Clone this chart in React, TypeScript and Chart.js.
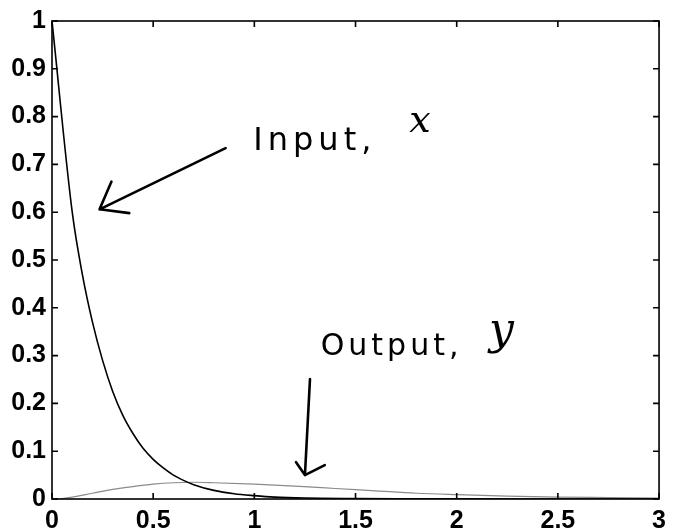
import React, { useEffect, useRef } from "react";
import { Chart, registerables } from "chart.js";

Chart.register(...registerables);

const inputT = [0, 0.1, 0.15, 0.2, 0.25, 0.3, 0.35, 0.4, 0.45, 0.5, 0.55, 0.6, 0.65, 0.7, 0.8, 0.9, 1.0, 1.1, 1.25, 1.5, 1.75, 2.0, 2.5, 3.0];
const inputX = [1, 0.6, 0.47, 0.37, 0.29, 0.225, 0.175, 0.137, 0.106, 0.083, 0.065, 0.05, 0.039, 0.03, 0.018, 0.011, 0.007, 0.004, 0.002, 0.001, 0.0005, 0.0002, 0, 0];

const outputT = [0, 0.03, 0.1, 0.2, 0.3, 0.4, 0.5, 0.6, 0.7, 0.8, 1.0, 1.2, 1.4, 1.6, 1.8, 2.0, 2.25, 2.5, 2.75, 3.0];
const outputY = [0, 0, 0.004, 0.012, 0.02, 0.026, 0.031, 0.034, 0.035, 0.034, 0.031, 0.027, 0.022, 0.017, 0.012, 0.009, 0.006, 0.004, 0.003, 0.002];

const xTicks = [0, 0.5, 1, 1.5, 2, 2.5, 3];
const yTicks = [0, 0.1, 0.2, 0.3, 0.4, 0.5, 0.6, 0.7, 0.8, 0.9, 1];
const xTickLabels = ["0", "0.5", "1", "1.5", "2", "2.5", "3"];
const yTickLabels = ["0", "0.1", "0.2", "0.3", "0.4", "0.5", "0.6", "0.7", "0.8", "0.9", "1"];

const inputLabel = "Input,";
const inputVar = "x";
const outputLabel = "Output,";
const outputVar = "y";

const TICK_FONT = { family: "'Liberation Sans', Arial, sans-serif", size: 25, weight: "bold" as const };

function drawSpaced(ctx: CanvasRenderingContext2D, text: string, x: number, y: number, spacing: number) {
  let cx = x;
  for (const ch of text) {
    ctx.fillText(ch, cx, y);
    cx += ctx.measureText(ch).width + spacing;
  }
}

const framePlugin = {
  id: "frame",
  afterDraw(chart: any) {
    const { ctx, chartArea: a, scales } = chart;
    const xs = scales.x;
    const ys = scales.y;
    ctx.save();
    ctx.strokeStyle = "#000";
    ctx.lineWidth = 1.6;
    ctx.strokeRect(a.left, a.top, a.right - a.left, a.bottom - a.top);
    const tl = 6;
    ctx.beginPath();
    for (const v of xTicks) {
      const px = xs.getPixelForValue(v);
      ctx.moveTo(px, a.bottom);
      ctx.lineTo(px, a.bottom - tl);
      ctx.moveTo(px, a.top);
      ctx.lineTo(px, a.top + tl);
    }
    for (const v of yTicks) {
      const py = ys.getPixelForValue(v);
      ctx.moveTo(a.left, py);
      ctx.lineTo(a.left + tl, py);
      ctx.moveTo(a.right, py);
      ctx.lineTo(a.right - tl, py);
    }
    ctx.stroke();

    // handwritten-style annotations, placed in data coordinates
    const P = (t: number, v: number) => [xs.getPixelForValue(t), ys.getPixelForValue(v)];
    ctx.lineWidth = 2.6;
    ctx.lineCap = "round";
    ctx.lineJoin = "round";
    ctx.fillStyle = "#000";

    // Input arrow
    let [tx, ty] = P(0.858, 0.734);
    let [hx, hy] = P(0.235, 0.606);
    let [b1x, b1y] = P(0.294, 0.664);
    let [b2x, b2y] = P(0.382, 0.598);
    ctx.beginPath();
    ctx.moveTo(tx, ty);
    ctx.lineTo(hx, hy);
    ctx.moveTo(b1x, b1y);
    ctx.lineTo(hx, hy);
    ctx.lineTo(b2x, b2y);
    ctx.stroke();

    // Output arrow
    [tx, ty] = P(1.275, 0.251);
    [hx, hy] = P(1.25, 0.05);
    [b1x, b1y] = P(1.206, 0.077);
    [b2x, b2y] = P(1.348, 0.071);
    ctx.beginPath();
    ctx.moveTo(tx, ty);
    ctx.lineTo(hx, hy);
    ctx.moveTo(b1x, b1y);
    ctx.lineTo(hx, hy);
    ctx.lineTo(b2x, b2y);
    ctx.stroke();

    ctx.textBaseline = "alphabetic";
    ctx.textAlign = "left";
    ctx.font = "32px 'DejaVu Sans'";
    let [lx, ly] = P(0.995, 0.73);
    drawSpaced(ctx, inputLabel, lx, ly, 5);
    ctx.font = "italic 38px 'DejaVu Serif'";
    [lx, ly] = P(1.765, 0.768);
    ctx.fillText(inputVar, lx, ly);

    ctx.font = "30px 'DejaVu Sans'";
    [lx, ly] = P(1.328, 0.301);
    drawSpaced(ctx, outputLabel, lx, ly, 4);
    ctx.font = "italic 44px 'DejaVu Serif'";
    [lx, ly] = P(2.16, 0.325);
    ctx.fillText(outputVar, lx, ly);
    ctx.restore();
  },
};

export default function App() {
  const ref = useRef<HTMLCanvasElement | null>(null);
  useEffect(() => {
    if (!ref.current) return;
    const chart = new Chart(ref.current, {
      type: "line",
      data: {
        datasets: [
          {
            label: "Input, x",
            data: inputT.map((t, i) => ({ x: t, y: inputX[i] })),
            borderColor: "#000",
            borderWidth: 1.6,
            pointRadius: 0,
            cubicInterpolationMode: "monotone",
            fill: false,
          },
          {
            label: "Output, y",
            data: outputT.map((t, i) => ({ x: t, y: outputY[i] })),
            borderColor: "#8a8a8a",
            borderWidth: 1.2,
            pointRadius: 0,
            cubicInterpolationMode: "monotone",
            fill: false,
          },
        ],
      },
      options: {
        responsive: false,
        animation: false,
        events: [],
        layout: { padding: { top: 17, right: 9, left: 0, bottom: 0 } },
        plugins: { legend: { display: false }, tooltip: { enabled: false }, title: { display: false } },
        scales: {
          x: {
            type: "linear",
            min: 0,
            max: 3,
            grid: { display: false, drawTicks: false },
            border: { display: false },
            afterBuildTicks: (s: any) => {
              s.ticks = xTicks.map((v) => ({ value: v }));
            },
            afterFit: (s: any) => {
              s.height = 32;
            },
            ticks: {
              color: "#000",
              font: TICK_FONT,
              padding: 7,
              maxRotation: 0,
              autoSkip: false,
              callback: (v: any) => xTickLabels[xTicks.indexOf(Number(v))] ?? "",
            },
          },
          y: {
            type: "linear",
            min: 0,
            max: 1,
            grid: { display: false, drawTicks: false },
            border: { display: false },
            afterBuildTicks: (s: any) => {
              s.ticks = yTicks.map((v) => ({ value: v }));
            },
            afterFit: (s: any) => {
              s.width = 52;
            },
            ticks: {
              color: "#000",
              font: TICK_FONT,
              padding: 6,
              autoSkip: false,
              callback: (v: any) => {
                const i = yTicks.findIndex((t) => Math.abs(t - Number(v)) < 1e-9);
                return i >= 0 ? yTickLabels[i] : "";
              },
            },
          },
        },
      },
      plugins: [framePlugin],
    });
    return () => chart.destroy();
  }, []);
  return (
    <div style={{ position: "absolute", left: 0, top: 0, width: 673, height: 531, background: "#fff" }}>
      <canvas ref={ref} width={673} height={531} style={{ display: "block" }} />
    </div>
  );
}
